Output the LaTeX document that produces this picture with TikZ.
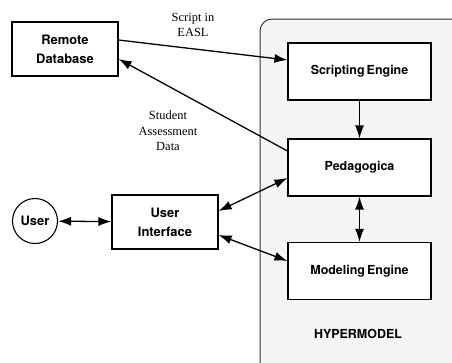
\documentclass[tikz,border=0pt]{standalone}
\usepackage{fontspec}
\setsansfont{TeX Gyre Heros}
\setmainfont{Liberation Serif}
\usetikzlibrary{arrows.meta}

\begin{document}
\begin{tikzpicture}[x=1bp, y=-1bp,
	block/.style={draw, line width=1.1bp, fill=white, minimum width=106bp, minimum height=54bp,
		align=center, font=\sffamily\bfseries\fontsize{13}{19}\selectfont},
	engine/.style={block, minimum width=143bp, minimum height=57bp, font=\sffamily\bfseries\fontsize{12.5}{15}\selectfont},
	link/.style={line width=1.3bp, -{Latex[length=13bp, width=9bp]}},
	twolink/.style={line width=1.3bp, {Latex[length=13bp, width=9bp]}-{Latex[length=13bp, width=9bp]}},
	note/.style={align=center, font=\fontsize{12.5}{15.5}\selectfont}]
	
	\useasboundingbox (0,0) rectangle (452,362);
	
	% The hypermodel frame (cut by the page edge)
	\draw[line width=1bp, draw=black!80, fill=black!4, rounded corners=12bp] (260,19) rectangle (475,380);
	\node[font=\sffamily\bfseries\fontsize{12.5}{15}\selectfont] (hyper) at (358,334) {HYPERMODEL};
	
	% Boxes inside the hypermodel
	\node[engine] (script) at (359.5,71.5) {Scripting\,Engine};
	\node[engine] (peda) at (359.5,167.5) {Pedagogica};
	\node[engine] (model) at (359.5,271) {Modeling\,Engine};
	
	% Boxes outside
	\node[block] (remote) at (65,49) {Remote\\Database};
	\node[block] (ui) at (165,222) {User\\Interface};
	\node[draw, line width=1.1bp, circle, minimum size=45bp, inner sep=0pt,
		font=\sffamily\bfseries\fontsize{13}{15}\selectfont] (user) at (35,221) {User};
	
	% Connectors
	\draw[link] (remote.east |- 0,40) -- (script.west |- 0,60);
	\draw[link] (peda.west |- 0,151) -- (remote.east |- 0,59);
	\draw[link] (script) -- (peda);
	\draw[twolink] (peda) -- (model);
	\draw[twolink] (user) -- (ui);
	\draw[twolink] (ui.east |- 0,211) -- (peda.west |- 0,178);
	\draw[twolink] (ui.east |- 0,235) -- (model.west |- 0,261);
	
	% Labels on the connectors
	\node[note] (easl) at (193,25) {Script in\\EASL};
	\node[note] (assess) at (168,131) {Student\\Assessment\\Data};
	
\end{tikzpicture}
\end{document}
